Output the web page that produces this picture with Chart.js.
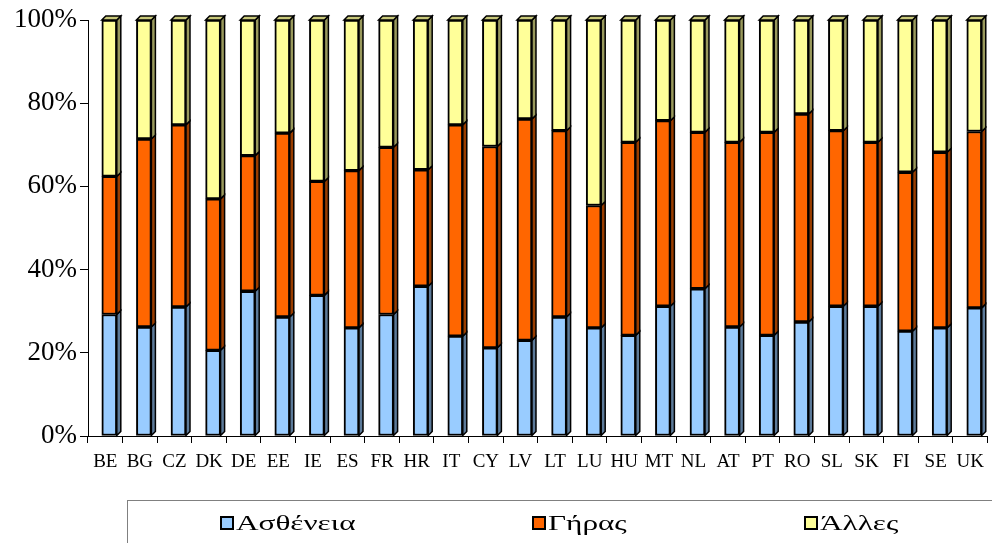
<!DOCTYPE html>
<html>
<head>
<meta charset="utf-8">
<script src="https://cdn.jsdelivr.net/npm/chart.js@4/dist/chart.umd.min.js"></script>
<style>
  body { margin: 0; background: #fff; overflow: hidden; }
  #wrap { position: relative; width: 992px; height: 543px; overflow: hidden; }
  #legend {
    position: absolute; left: 127px; top: 500px; width: 900px; height: 60px;
    border-top: 1px solid #808080; border-left: 1px solid #808080;
    display: flex; align-items: flex-start; padding-left: 92px; box-sizing: border-box;
    font-family: "Liberation Serif", "Times New Roman", serif; font-size: 22px; color: #000;
  }
  .item { display: flex; align-items: center; margin-top: 9px; flex: none; }
  .box { width: 10px; height: 10px; border: 2px solid #000; margin-right: 2px; flex: none; }
  .txt { display: inline-block; transform: scaleX(1.42); transform-origin: left center; }
</style>
</head>
<body>
<div id="wrap">
  <canvas id="barChart" width="992" height="543"></canvas>
  <div id="legend"></div>
</div>
<script>
var countries = ['BE','BG','CZ','DK','DE','EE','IE','ES','FR','HR','IT','CY','LV','LT','LU','HU','MT','NL','AT','PT','RO','SL','SK','FI','SE','UK']
var sickness = [29.2,26.2,31.0,20.6,34.8,28.6,33.8,26.0,29.2,36.0,24.0,21.2,23.0,28.6,26.0,24.2,31.2,35.4,26.2,24.2,27.4,31.2,31.2,25.2,26.0,30.8]
var oldAge   = [33.2,45.2,43.8,36.4,32.6,44.2,27.4,37.8,40.2,28.0,50.8,48.4,53.2,44.8,29.4,46.4,44.6,37.6,44.4,48.8,50.0,42.2,39.4,38.2,42.2,42.4]
var other    = [37.6,28.6,25.2,43.0,32.6,27.2,38.8,36.2,30.6,36.0,25.2,30.4,23.8,26.6,44.6,29.4,24.2,27.0,29.4,27.0,22.6,26.6,29.4,36.6,31.8,26.8]
var seriesNames = ['Ασθένεια', 'Γήρας', 'Άλλες']
var yTicks = [0, 20, 40, 60, 80, 100]

var fronts = ['#99CCFF', '#FF6600', '#FFFF99']
var sides  = ['#5C7A99', '#993D00', '#99995C']
var tops   = ['#7A9FC7', '#CC5200', '#C8C87A']
var legendWidths = [312, 272, 200]

var depth = 4
var shift = 4

// fake 3d: side and top faces next to every bar
var bar3d = {
    id: 'bar3d',
    beforeDatasetsDraw: function (chart) {
        chart.ctx.save()
        chart.ctx.translate(shift, 0)
    },
    afterDatasetsDraw: function (chart) {
        var ctx = chart.ctx
        var last = chart.data.datasets.length - 1
        ctx.lineWidth = 1.5
        ctx.strokeStyle = '#000'
        chart.data.datasets.forEach(function (ds, di) {
            chart.getDatasetMeta(di).data.forEach(function (bar) {
                var p = bar.getProps(['x', 'y', 'base', 'width'], true)
                var l = p.x - p.width / 2, r = p.x + p.width / 2
                var t = Math.min(p.y, p.base), b = Math.max(p.y, p.base)
                ctx.beginPath()
                ctx.moveTo(r, t)
                ctx.lineTo(r + depth, t - depth)
                ctx.lineTo(r + depth, b - depth)
                ctx.lineTo(r, b)
                ctx.closePath()
                ctx.fillStyle = sides[di]
                ctx.fill()
                ctx.stroke()
                if (di === last) {
                    ctx.beginPath()
                    ctx.moveTo(l, t)
                    ctx.lineTo(l + depth, t - depth)
                    ctx.lineTo(r + depth, t - depth)
                    ctx.lineTo(r, t)
                    ctx.closePath()
                    ctx.fillStyle = tops[di]
                    ctx.fill()
                    ctx.stroke()
                }
            })
        })
        ctx.restore()
    }
}

var values = [sickness, oldAge, other]
var datasets = seriesNames.map(function (name, i) {
    return {
        label: name,
        data: values[i],
        backgroundColor: fronts[i],
        borderColor: '#000',
        borderWidth: 2,
        borderSkipped: false,
        barThickness: 15
    }
})

var serif = '"Liberation Serif", "Times New Roman", serif'

new Chart(document.getElementById('barChart').getContext('2d'), {
    type: 'bar',
    data: { labels: countries, datasets: datasets },
    options: {
        responsive: false,
        animation: false,
        devicePixelRatio: 1,
        layout: { padding: { top: 20, right: 0, left: 0, bottom: 0 } },
        plugins: { legend: { display: false }, tooltip: { enabled: false } },
        scales: {
            x: {
                stacked: true,
                grid: { display: true, drawOnChartArea: false, offset: true, tickLength: 7, color: '#000' },
                border: { color: '#000', width: 1 },
                ticks: { color: '#000', font: { family: serif, size: 19 }, padding: 8, maxRotation: 0, autoSkip: false },
                afterFit: function (s) { s.height = 107 }
            },
            y: {
                stacked: true,
                min: 0,
                max: 100,
                afterBuildTicks: function (s) { s.ticks = yTicks.map(function (v) { return { value: v } }) },
                grid: { display: true, drawOnChartArea: false, tickLength: 8, color: '#000' },
                border: { color: '#000', width: 1 },
                ticks: {
                    color: '#000', padding: 3,
                    font: { family: serif, size: 27 },
                    callback: function (v) { return v + '%' }
                },
                afterFit: function (s) { s.width = 88 }
            }
        }
    },
    plugins: [bar3d]
})

// legend
var legend = document.getElementById('legend')
seriesNames.forEach(function (name, i) {
    var item = document.createElement('div')
    item.className = 'item'
    item.style.width = legendWidths[i] + 'px'
    var box = document.createElement('span')
    box.className = 'box'
    box.style.background = fronts[i]
    var txt = document.createElement('span')
    txt.className = 'txt'
    txt.textContent = name
    item.appendChild(box)
    item.appendChild(txt)
    legend.appendChild(item)
})
</script>
</body>
</html>
